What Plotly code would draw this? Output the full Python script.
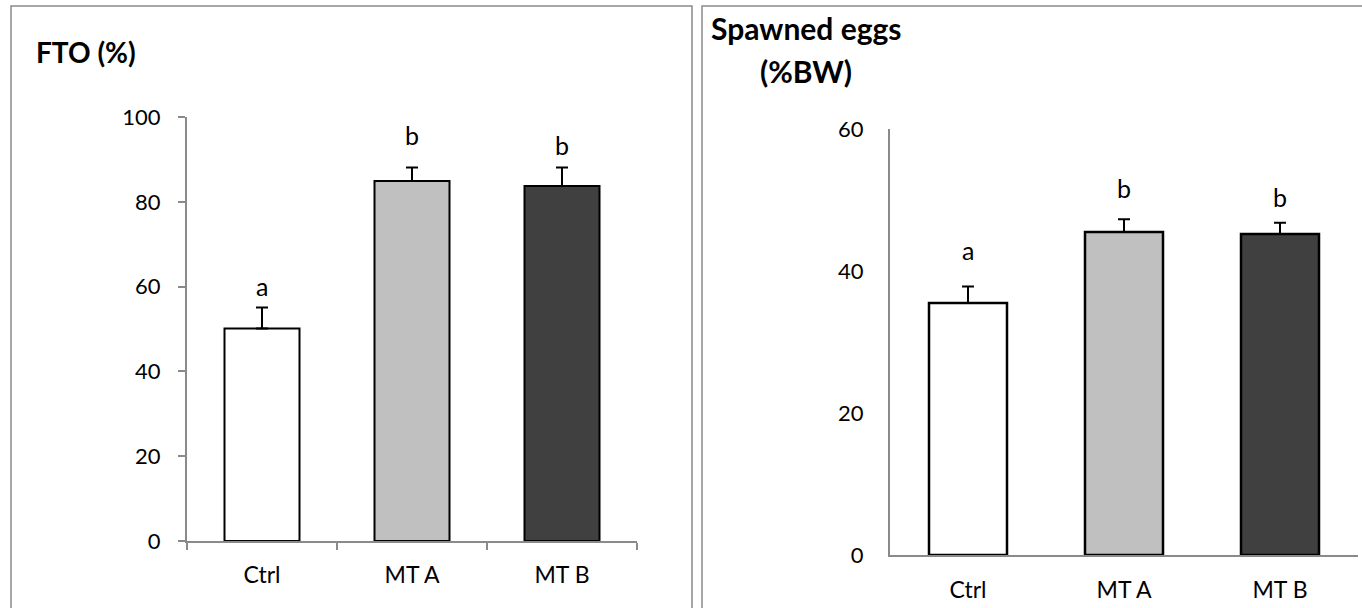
import plotly.graph_objects as go

W, H = 1362, 608

categories = ["Ctrl", "MT A", "MT B"]
bar_colors = ["#FFFFFF", "#C0C0C0", "#404040"]

# Left panel: FTO (%)
fto_values = [50.1, 84.9, 83.7]
fto_errors = [5.0, 3.2, 4.4]
fto_letters = ["a", "b", "b"]
fto_letter_y = [60.2, 95.7, 93.4]
fto_ticks = [0, 20, 40, 60, 80, 100]

# Right panel: Spawned eggs (%BW)
egg_values = [35.5, 45.5, 45.2]
egg_errors = [2.3, 1.8, 1.6]
egg_letters = ["a", "b", "b"]
egg_letter_y = [43.0, 51.7, 50.4]
egg_ticks = [0, 20, 40, 60]

FONT = "Lato"
AXIS_COL = "#8A8A8A"


def px_x(p):
    return p / W


def px_y(p):
    return 1 - p / H


fig = go.Figure()

fig.add_trace(go.Bar(
    x=categories, y=fto_values, xaxis="x", yaxis="y",
    marker=dict(color=bar_colors, line=dict(color="#000000", width=2)),
    width=0.5,
    error_y=dict(type="data", array=fto_errors, arrayminus=[0] * 3,
                 symmetric=False, color="#000000", thickness=2, width=6),
    showlegend=False,
))

fig.add_trace(go.Bar(
    x=categories, y=egg_values, xaxis="x2", yaxis="y2",
    marker=dict(color=bar_colors, line=dict(color="#000000", width=2.5)),
    width=0.5,
    error_y=dict(type="data", array=egg_errors, arrayminus=[0] * 3,
                 symmetric=False, color="#000000", thickness=2, width=6),
    showlegend=False,
))

annotations = []
for c, t, yv in zip(categories, fto_letters, fto_letter_y):
    annotations.append(dict(x=c, y=yv, xref="x", yref="y", text=t, showarrow=False,
                            font=dict(family=FONT, size=25, color="#000000"),
                            yanchor="middle"))
for c, t, yv in zip(categories, egg_letters, egg_letter_y):
    annotations.append(dict(x=c, y=yv, xref="x2", yref="y2", text=t, showarrow=False,
                            font=dict(family=FONT, size=25, color="#000000"),
                            yanchor="middle"))

annotations.append(dict(x=px_x(34), y=px_y(52), xref="paper", yref="paper",
                        text="<b>FTO (%)</b>", showarrow=False, xanchor="left",
                        yanchor="middle", font=dict(family=FONT, size=28, color="#000000")))
annotations.append(dict(x=px_x(806), y=px_y(28), xref="paper", yref="paper",
                        text="<b>Spawned eggs</b>", showarrow=False,
                        xanchor="center", yanchor="middle",
                        font=dict(family=FONT, size=30, color="#000000")))
annotations.append(dict(x=px_x(806), y=px_y(71), xref="paper", yref="paper",
                        text="<b>(%BW)</b>", showarrow=False,
                        xanchor="center", yanchor="middle",
                        font=dict(family=FONT, size=30, color="#000000")))

shapes = [
    dict(type="rect", xref="paper", yref="paper",
         x0=px_x(11), x1=px_x(692), y0=px_y(6), y1=px_y(620),
         line=dict(color=AXIS_COL, width=1.5), fillcolor="rgba(0,0,0,0)", layer="below"),
    dict(type="rect", xref="paper", yref="paper",
         x0=px_x(702), x1=px_x(1375), y0=px_y(6), y1=px_y(620),
         line=dict(color=AXIS_COL, width=1.5), fillcolor="rgba(0,0,0,0)", layer="below"),
]

fig.update_layout(
    template="none",
    width=W, height=H,
    margin=dict(l=0, r=0, t=0, b=0, pad=0),
    paper_bgcolor="#FFFFFF", plot_bgcolor="#FFFFFF",
    font=dict(family=FONT, size=20, color="#000000"),
    annotations=annotations,
    shapes=shapes,
    xaxis=dict(domain=[px_x(187), px_x(637)], anchor="y", type="category",
               automargin=False,
               showline=True, linecolor=AXIS_COL, linewidth=2,
               ticks="outside", tickson="boundaries", ticklen=7, tickcolor=AXIS_COL,
               tickwidth=2, showgrid=False, zeroline=False, ticklabelstandoff=12,
               tickfont=dict(family=FONT, size=23)),
    yaxis=dict(domain=[px_y(541), px_y(117)], anchor="x", range=[0, 100],
               automargin=False,
               tickvals=fto_ticks, showline=True, linecolor=AXIS_COL, linewidth=2,
               ticks="outside", ticklen=7, tickcolor=AXIS_COL, tickwidth=2,
               showgrid=False, zeroline=False, ticklabelstandoff=13,
               tickfont=dict(family=FONT, size=22)),
    xaxis2=dict(domain=[px_x(890), px_x(1358)], anchor="y2", type="category",
                automargin=False,
                showline=True, linecolor=AXIS_COL, linewidth=2,
                ticks="", showgrid=False, zeroline=False, ticklabelstandoff=13,
                tickfont=dict(family=FONT, size=23)),
    yaxis2=dict(domain=[px_y(555), px_y(129)], anchor="x2", range=[0, 60],
                automargin=False,
                tickvals=egg_ticks, showline=True, linecolor=AXIS_COL, linewidth=2,
                ticks="", showgrid=False, zeroline=False, ticklabelstandoff=20,
                tickfont=dict(family=FONT, size=22)),
)

fig.write_html("out.html")
